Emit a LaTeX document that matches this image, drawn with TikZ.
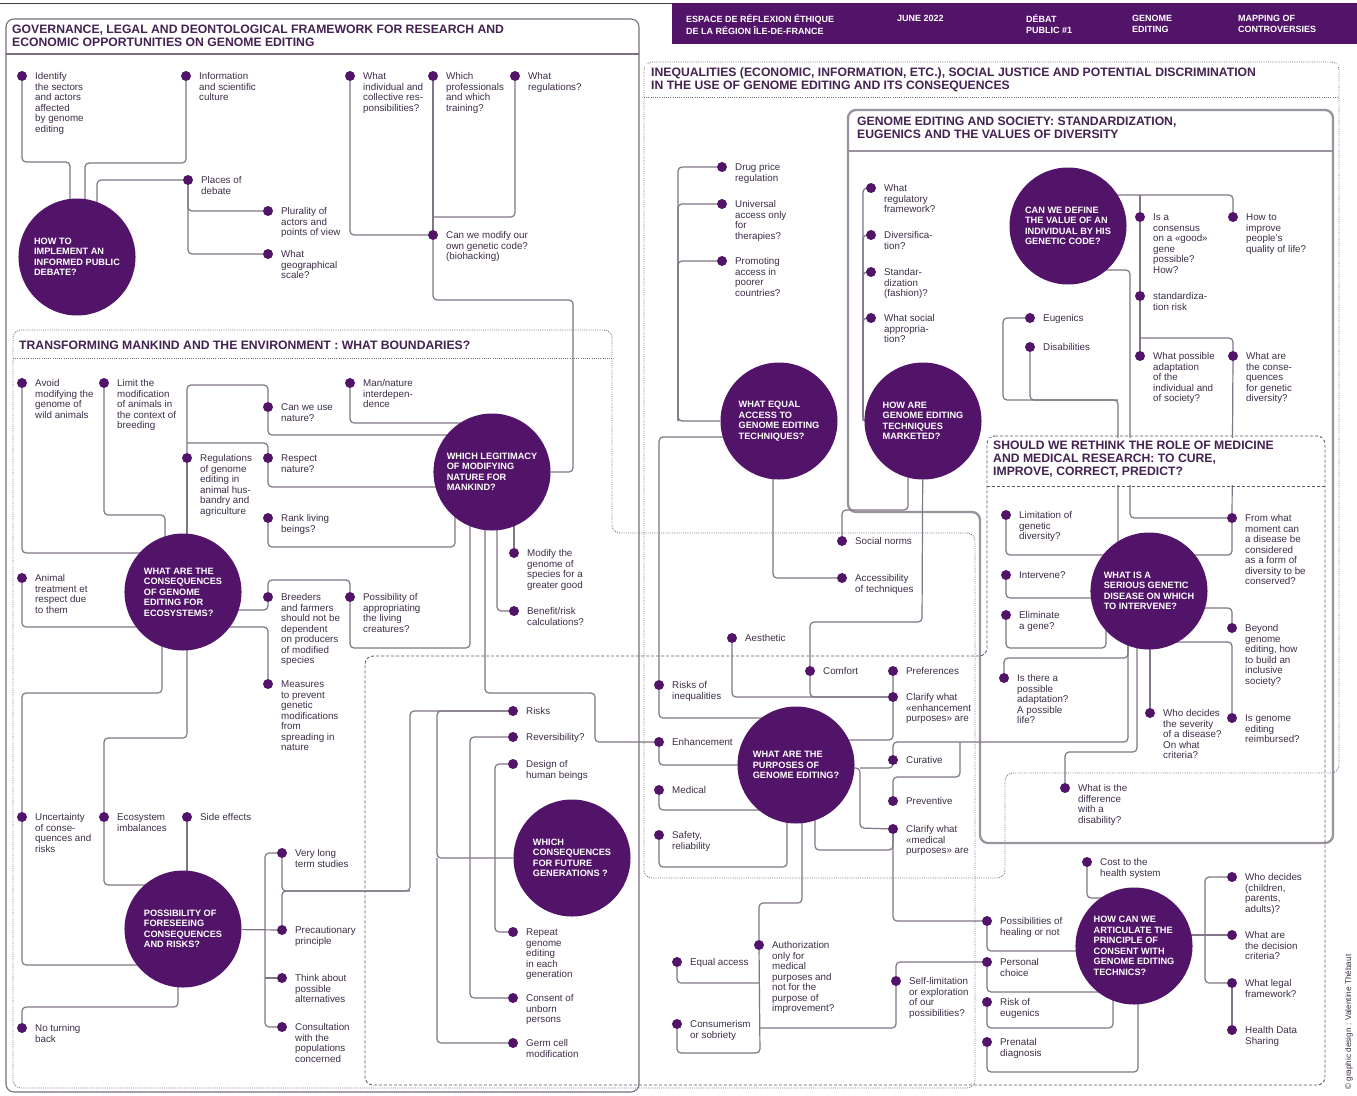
\documentclass[tikz,border=0pt]{standalone}
\usepackage{fontspec}
\setmainfont{Liberation Sans}
\usepackage{xcolor}
\usepackage{tikz}
\usetikzlibrary{backgrounds}

\definecolor{gpurple}{RGB}{82,20,104}
\definecolor{linkgray}{RGB}{128,118,134}
\definecolor{framegray}{RGB}{120,110,126}
\definecolor{txtgray}{RGB}{62,46,72}
\definecolor{ttlpurple}{RGB}{68,34,82}

\tikzset{
  topic/.style={circle, fill=gpurple, minimum size=117pt, inner sep=0pt, text=white,
    align=left, font=\fontsize{9.2}{10.5}\selectfont\bfseries},
  bullet/.style={circle, fill=gpurple, minimum size=10pt, inner sep=0pt},
  lbl/.style={anchor=north west, align=left, inner sep=0pt, text=txtgray,
    font=\fontsize{9.8}{10.5}\selectfont},
  link/.style={draw=linkgray, line width=1.2pt, rounded corners=4pt},
  ttl/.style={anchor=north west, align=left, inner sep=0pt, text=ttlpurple,
    font=\fontsize{12.2}{13.2}\selectfont\bfseries},
  hdr/.style={anchor=north west, align=left, inner sep=0pt, text=white,
    font=\fontsize{9}{11}\selectfont\bfseries},
  gframe/.style={draw=framegray, line width=1.1pt, rounded corners=8pt},
  dotframe/.style={draw=framegray, line width=0.9pt, dash pattern=on 0.9pt off 1.3pt, rounded corners=8pt},
  dashframe/.style={draw=framegray!80!black, line width=0.9pt, dash pattern=on 3pt off 2pt, rounded corners=8pt},
  socframe/.style={draw=framegray!75, line width=2.3pt, rounded corners=8pt}
}

% dot + its label
\newcommand{\leaf}[3]{%
  \node[bullet] (#1) at (#2) {};
  \node[lbl] (#1-t) at ([shift={(13,-3.8)}]#1.center) {\strut #3};}

\begin{document}
\begin{tikzpicture}[x=1pt, y=-1pt]
\useasboundingbox (0,0) rectangle (1357,1095);

% header band
\draw[black!75, line width=0.8pt] (0,3) -- (672,3);
\fill[gpurple] (672,3) rectangle (1357,44);
\node[hdr] (h1) at (686,14) {\strut ESPACE DE RÉFLEXION ÉTHIQUE\\DE LA RÉGION ÎLE-DE-FRANCE};
\node[hdr] (h2) at (897,14) {\strut JUNE 2022};
\node[hdr] (h3) at (1026,14) {\strut DÉBAT\\PUBLIC \#1};
\node[hdr] (h4) at (1132,14) {\strut GENOME\\EDITING};
\node[hdr] (h5) at (1238,14) {\strut MAPPING OF\\CONTROVERSIES};

% section titles
\node[ttl] (t1) at (12,24) {\strut GOVERNANCE, LEGAL AND DEONTOLOGICAL FRAMEWORK FOR RESEARCH AND\\ECONOMIC OPPORTUNITIES ON GENOME EDITING};
\node[ttl] (t2) at (19,340) {\strut TRANSFORMING MANKIND AND THE ENVIRONMENT : WHAT BOUNDARIES?};
\node[ttl] (t3) at (651,67) {\strut INEQUALITIES (ECONOMIC, INFORMATION, ETC.), SOCIAL JUSTICE AND POTENTIAL DISCRIMINATION\\IN THE USE OF GENOME EDITING AND ITS CONSEQUENCES};
\node[ttl] (t4) at (857,116) {\strut GENOME EDITING AND SOCIETY: STANDARDIZATION,\\EUGENICS AND THE VALUES OF DIVERSITY};
\node[ttl] (t5) at (993,440) {\strut SHOULD WE RETHINK THE ROLE OF MEDICINE\\AND MEDICAL RESEARCH: TO CURE,\\IMPROVE, CORRECT, PREDICT?};

% big questions
\node[topic] (howto) at (77,257) {HOW TO\\IMPLEMENT AN\\INFORMED PUBLIC\\DEBATE?};
\node[topic] (legit) at (492,472) {WHICH LEGITIMACY\\OF MODIFYING\\NATURE FOR\\MANKIND?};
\node[topic] (ecosys) at (183,592) {WHAT ARE THE\\CONSEQUENCES\\OF GENOME\\EDITING FOR\\ECOSYSTEMS?};
\node[topic] (foresee) at (183,929) {POSSIBILITY OF\\FORESEEING\\CONSEQUENCES\\AND RISKS?};
\node[topic] (futgen) at (572,858) {WHICH\\CONSEQUENCES\\FOR FUTURE\\GENERATIONS ?};
\node[topic] (eqtech) at (779,421) {WHAT EQUAL\\ACCESS TO\\GENOME EDITING\\TECHNIQUES?};
\node[topic] (market) at (923,421) {HOW ARE\\GENOME EDITING\\TECHNIQUES\\MARKETED?};
\node[topic] (valuedef) at (1068,226) {CAN WE DEFINE\\THE VALUE OF AN\\INDIVIDUAL BY HIS\\GENETIC CODE?};
\node[topic] (serious) at (1149,591) {WHAT IS A\\SERIOUS GENETIC\\DISEASE ON WHICH\\TO INTERVENE?};
\node[topic] (purposes) at (796,765) {WHAT ARE THE\\PURPOSES OF\\GENOME EDITING?};
\node[topic] (consent) at (1134,946) {HOW CAN WE\\ARTICULATE THE\\PRINCIPLE OF\\CONSENT WITH\\GENOME EDITING\\TECHNICS?};

% governance
\leaf{ident}{22,76}{Identify\\the sectors\\and actors\\affected\\by genome\\editing}
\leaf{info}{186,76}{Information\\and scientific\\culture}
\leaf{places}{188,180}{Places of\\debate}
\leaf{plural}{268,211}{Plurality of\\actors and\\points of view}
\leaf{geoscale}{268,254}{What\\geographical\\scale?}
\leaf{indiv}{350,76}{What\\individual and\\collective res-\\ponsibilities?}
\leaf{profs}{433,76}{Which\\professionals\\and which\\training?}
\leaf{regs}{515,76}{What\\regulations?}
\leaf{modcode}{433,235}{Can we modify our\\own genetic code?\\(biohacking)}

% transforming mankind
\leaf{avoid}{22,383}{Avoid\\modifying the\\genome of\\wild animals}
\leaf{limit}{104,383}{Limit the\\modification\\of animals in\\the context of\\breeding}
\leaf{canuse}{268,407}{Can we use\\nature?}
\leaf{mannat}{350,383}{Man/nature\\interdepen-\\dence}
\leaf{regan}{187,458}{Regulations\\of genome\\editing in\\animal hus-\\bandry and\\agriculture}
\leaf{respect}{268,458}{Respect\\nature?}
\leaf{rank}{268,518}{Rank living\\beings?}
\leaf{animal}{22,578}{Animal\\treatment et\\respect due\\to them}
\leaf{breed}{268,597}{Breeders\\and farmers\\should not be\\dependent\\on producers\\of modified\\species}
\leaf{approp}{350,597}{Possibility of\\appropriating\\the living\\creatures?}
\leaf{measures}{268,684}{Measures\\to prevent\\genetic\\modifications\\from\\spreading in\\nature}
\leaf{modspec}{514,553}{Modify the\\genome of\\species for a\\greater good}
\leaf{benefit}{514,611}{Benefit/risk\\calculations?}
\leaf{uncert}{22,817}{Uncertainty\\of conse-\\quences and\\risks}
\leaf{ecoimb}{104,817}{Ecosystem\\imbalances}
\leaf{side}{187,817}{Side effects}
\leaf{noturn}{22,1028}{No turning\\back}
\leaf{verylong}{282,853}{Very long\\term studies}
\leaf{precaut}{282,930}{Precautionary\\principle}
\leaf{think}{282,978}{Think about\\possible\\alternatives}
\leaf{consult}{282,1027}{Consultation\\with the\\populations\\concerned}

% future generations
\leaf{risks}{513,711}{Risks}
\leaf{revers}{513,737}{Reversibility?}
\leaf{design}{513,764}{Design of\\human beings}
\leaf{repeat}{513,932}{Repeat\\genome\\editing\\in each\\generation}
\leaf{unborn}{513,998}{Consent of\\unborn\\persons}
\leaf{germ}{513,1043}{Germ cell\\modification}

% inequalities, purposes
\leaf{drug}{722,167}{Drug price\\regulation}
\leaf{univ}{722,204}{Universal\\access only\\for\\therapies?}
\leaf{promo}{722,261}{Promoting\\access in\\poorer\\countries?}
\leaf{social}{842,541}{Social norms}
\leaf{access}{842,578}{Accessibility\\of techniques}
\leaf{aesth}{732,638}{Aesthetic}
\leaf{comfort}{810,671}{Comfort}
\leaf{prefer}{893,671}{Preferences}
\leaf{clarenh}{893,697}{Clarify what\\«enhancement\\purposes» are}
\leaf{riskineq}{659,685}{Risks of\\inequalities}
\leaf{enhance}{659,742}{Enhancement}
\leaf{medical}{659,790}{Medical}
\leaf{safety}{659,835}{Safety,\\reliability}
\leaf{curative}{893,760}{Curative}
\leaf{prevent}{893,801}{Preventive}
\leaf{clarmed}{893,829}{Clarify what\\«medical\\purposes» are}
\leaf{eqaccess}{677,962}{Equal access}
\leaf{author}{759,945}{Authorization\\only for\\medical\\purposes and\\not for the\\purpose of\\improvement?}
\leaf{consum}{677,1024}{Consumerism\\or sobriety}
\leaf{selflim}{896,981}{Self-limitation\\or exploration\\of our\\possibilities?}

% society
\leaf{whatreg}{871,188}{What\\regulatory\\framework?}
\leaf{divers}{871,235}{Diversifica-\\tion?}
\leaf{stdz}{871,272}{Standar-\\dization\\(fashion)?}
\leaf{socapp}{871,318}{What social\\appropria-\\tion?}
\leaf{eugen}{1030,318}{Eugenics}
\leaf{disab}{1030,347}{Disabilities}
\leaf{consens}{1140,217}{Is a\\consensus\\on a «good»\\gene\\possible?\\How?}
\leaf{improve}{1233,217}{How to\\improve\\people's\\quality of life?}
\leaf{stdrisk}{1140,296}{standardiza-\\tion risk}
\leaf{adapt}{1140,356}{What possible\\adaptation\\of the\\individual and\\of society?}
\leaf{conseq}{1233,356}{What are\\the conse-\\quences\\for genetic\\diversity?}

% medicine
\leaf{limdiv}{1006,515}{Limitation of\\genetic\\diversity?}
\leaf{interv}{1006,575}{Intervene?}
\leaf{elim}{1006,615}{Eliminate\\a gene?}
\leaf{possad}{1004,678}{Is there a\\possible\\adaptation?\\A possible\\life?}
\leaf{fromwhat}{1232,518}{From what\\moment can\\a disease be\\considered\\as a form of\\diversity to be\\conserved?}
\leaf{beyond}{1232,628}{Beyond\\genome\\editing, how\\to build an\\inclusive\\society?}
\leaf{whosev}{1150,713}{Who decides\\the severity\\of a disease?\\On what\\criteria?}
\leaf{reimb}{1232,718}{Is genome\\editing\\reimbursed?}
\leaf{differ}{1065,788}{What is the\\difference\\with a\\disability?}

% consent
\leaf{cost}{1087,862}{Cost to the\\health system}
\leaf{healing}{987,921}{Possibilities of\\healing or not}
\leaf{personal}{987,962}{Personal\\choice}
\leaf{riskeug}{987,1002}{Risk of\\eugenics}
\leaf{prenatal}{987,1042}{Prenatal\\diagnosis}
\leaf{whodec}{1232,877}{Who decides\\(children,\\parents,\\adults)?}
\leaf{criteria}{1232,935}{What are\\the decision\\criteria?}
\leaf{legal}{1232,983}{What legal\\framework?}
\leaf{health}{1232,1030}{Health Data\\Sharing}

\node[rotate=90, anchor=west, inner sep=0pt, text=txtgray, font=\fontsize{8.2}{9}\selectfont] (credit) at (1349,1090) {© graphic design : Valentine Thébaut};

\begin{scope}[on background layer]
  \fill[white] (0,0) rectangle (1357,1095);
  % frames
  \draw[gframe] (6,19) rectangle (639,1092);
  \draw[gframe] (6,54) -- (639,54);
  \draw[dotframe] (13,330) -- (612,330) -- (612,533) -- (975,533) -- (975,1088) -- (13,1088) -- cycle;
  \draw[dotframe] (13,358) -- (612,358);
  \draw[dotframe] (644,62) -- (1339,62) -- (1339,773) -- (1005,773) -- (1005,878) -- (644,878) -- cycle;
  \draw[socframe] (848,110) -- (1333,110) -- (1333,843) -- (980,843) -- (980,512) -- (848,512) -- cycle;
  \draw[socframe, line width=1.2pt] (848,151) -- (1333,151);
  \draw[dashframe] (987,436) -- (1325,436) -- (1325,1085) -- (365,1085) -- (365,656) -- (987,656) -- cycle;

  % governance links
  \draw[link] (ident) |- (70,162) |- (howto);
  \draw[link] (info) |- (85,163) |- (howto);
  \draw[link] (places) -| ([xshift=20]howto.center);
  \draw[link] (places) |- (plural);
  \draw[link] (places) |- (geoscale);
  \draw[link] (indiv) |- (modcode);
  \draw[link] (profs) -- (modcode);
  \draw[link] (regs) |- (433,217);
  \draw[link] (modcode) |- (573,300) |- (legit);

  % transforming links
  \draw[link] (avoid) |- ([yshift=39]ecosys.center);
  \draw[link] (limit) |- (165,515) |- (ecosys);
  \draw[link] (regan) -- (regan |- ecosys);
  \draw[link] (regan) -- (187,385) -| (canuse) |- (470,435) |- (legit);
  \draw[link] (187,443) -| (respect) |- (470,487) |- (legit);
  \draw[link] (rank) |- (455,547) |- (legit);
  \draw[link] (mannat) |- (470,423) |- (legit);
  \draw[link] (animal) |- ([yshift=-35]ecosys.center);
  \draw[link] ([yshift=-18]ecosys.center) -| (breed) -- (268,580) -| (approp) |- (470,648) |- (legit);
  \draw[link] ([yshift=-35]ecosys.center) -| (measures);
  \draw[link] (modspec) -- (modspec |- legit);
  \draw[link] (benefit) -| ([xshift=5]legit.center);
  \draw[link] (enhance) -| (595,693) -| ([xshift=-7]legit.center);
  \draw[link] (uncert) |- (162,693) |- (ecosys);
  \draw[link] (uncert) |- ([yshift=-36]foresee.center);
  \draw[link] (ecoimb) |- (187,738) |- (ecosys);
  \draw[link] (ecoimb) |- ([yshift=44]foresee.center);
  \draw[link] (side) -- (side |- foresee);
  \draw[link] (noturn) |- (178,1007) |- (foresee);
  \draw[link] (foresee) -- (precaut);
  \draw[link] (verylong) -| (265,929) |- (consult);
  \draw[link] (265,978) -- (think);
  \draw[link] (risks) -| (410,891) -| (verylong);
  \draw[link] (410,891) -| (precaut);

  % future generations links
  \draw[link] (futgen) -- (437,858) |- (risks);
  \draw[link] (437,858) |- (germ);
  \draw[link] (revers) -| (470,858) |- (unborn);
  \draw[link] (design) -| (495,858) |- (repeat);

  % inequalities links
  \draw[link] (drug) -| (678,421) -- (eqtech);
  \draw[link] (univ) -| (678,421);
  \draw[link] (promo) -| (678,421);
  \draw[link] ([yshift=-16]eqtech.center) -| (riskineq) |- ([yshift=47]purposes.center);
  \draw[link] (access) -| ([xshift=-6]eqtech.center);
  \draw[link] (social) |- (908,510) |- (market);
  \draw[link] (comfort) |- (922,622) -- (market);
  \draw[link] (aesth) |- (clarenh);
  \draw[link] (comfort) |- (clarenh);
  \draw[link] (prefer) -- (clarenh) |- ([yshift=25]purposes.center);
  \draw[link] (enhance) |- (purposes);
  \draw[link] (medical) |- ([yshift=-45]purposes.center);
  \draw[link] (safety) |- (787,867) |- (purposes);
  \draw[link] ([yshift=-3]purposes.center) -| (860,828) -- (clarmed);
  \draw[link] (860,768) -| (curative);
  \draw[link] ([xshift=19]purposes.center) |- (893,850) -- (clarmed);
  \draw[link] (author) |- (802,903) |- (purposes);
  \draw[link] (eqaccess) |- (760,983);
  \draw[link] (consum) |- (760,1053) -- (author);
  \draw[link] (760,1028) -| (selflim) |- (personal);

  % society links
  \draw[link] (whatreg) -| (863,417) |- (market);
  \draw[link] (divers) -| (863,417);
  \draw[link] (stdz) -| (863,417);
  \draw[link] (socapp) -| (863,417);
  \draw[link] ([yshift=31]valuedef.center) -| (improve);
  \draw[link] (1140,195) -- (consens);
  \draw[link] (consens) -- (stdrisk) -- (adapt);
  \draw[link] (1140,338) -| (conseq);
  \draw[link] (conseq) -- (fromwhat);
  \draw[link] ([yshift=-44]valuedef.center) -| (1130,518) -- (fromwhat);
  \draw[link] (eugen) -| (1003,400) -| ([xshift=-31]serious.center);
  \draw[link] (disab) |- (1118,400);

  % medicine links
  \draw[link] (limdiv) |- (1232,555) -- (fromwhat);
  \draw[link] (interv) |- ([yshift=-7]serious.center);
  \draw[link] (elim) |- (1106,648) |- (serious);
  \draw[link] (possad) |- (1128,658) |- (serious);
  \draw[link] (curative) |- (1128,742) |- (serious);
  \draw[link] (prevent) |- (960,777) -- (960,742);
  \draw[link] (differ) |- (1137,752) |- (serious);
  \draw[link] (whosev) -- (whosev |- serious);
  \draw[link] ([yshift=-17]serious.center) -| (beyond);
  \draw[link] ([yshift=-51]serious.center) -| (reimb);
  \draw[link] (clarmed) |- (healing);

  % consent links
  \draw[link] (healing) |- ([yshift=-5]consent.center);
  \draw[link] (personal) |- ([yshift=-46]consent.center);
  \draw[link] (riskeug) |- (1113,1028) |- (consent);
  \draw[link] (prenatal) |- (1138,1072) |- (consent);
  \draw[link] (cost) |- (1110,898) |- (consent);
  \draw[link] ([yshift=11]consent.center) -- (criteria);
  \draw[link] (whodec) -| (1205,935) |- (legal);
  \draw[link] (legal) -- (health);

  % title bands over the links
  \fill[white] (645,64) rectangle (1338,96);
  \draw[dotframe] (644,97) -- (1339,97);
  \fill[white] (989,438) rectangle (1323,485);
  \draw[dashframe] (987,486) -- (1325,486);
\end{scope}
\end{tikzpicture}
\end{document}
